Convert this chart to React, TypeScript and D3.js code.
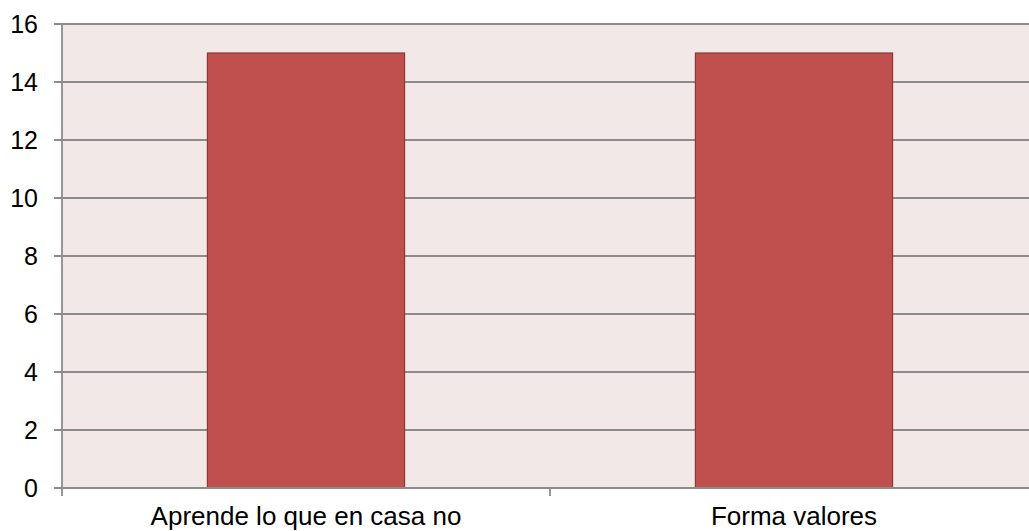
import React, { useEffect, useRef } from 'react';
import * as d3 from 'd3';

// chart data
const categories: string[] = ['Aprende lo que en casa no', 'Forma valores'];
const values: number[] = [15, 15];
const yTicks: number[] = [0, 2, 4, 6, 8, 10, 12, 14, 16];

const App: React.FC = () => {
  const svgRef = useRef<SVGSVGElement>(null);

  useEffect(() => {
    if (!svgRef.current) return;
    const svg = d3.select(svgRef.current);
    svg.selectAll('*').remove();

    const width = 1029;
    const height = 531;
    const margin = { top: 24, left: 62, bottom: 43 };
    const plotRight = 1038; // plot area runs past the right edge

    const x = d3.scaleBand<string>()
      .domain(categories)
      .range([margin.left, plotRight])
      .paddingInner(0.596)
      .paddingOuter(0.298);

    const y = d3.scaleLinear()
      .domain([0, 16])
      .range([height - margin.bottom, margin.top]);

    const g = svg.append('g');

    // plot background
    g.append('rect')
      .attr('x', margin.left)
      .attr('y', y(16))
      .attr('width', plotRight - margin.left)
      .attr('height', y(0) - y(16))
      .style('fill', '#f2e8e8');

    // gridlines + tick marks
    g.selectAll('.grid')
      .data(yTicks)
      .enter().append('line')
      .attr('class', 'grid')
      .attr('x1', margin.left - 8)
      .attr('x2', plotRight)
      .attr('y1', d => y(d))
      .attr('y2', d => y(d))
      .style('stroke', '#8c8c8c')
      .style('stroke-width', 1.8);

    // bars
    g.selectAll('.bar')
      .data(categories)
      .enter().append('rect')
      .attr('class', 'bar')
      .attr('x', d => x(d)!)
      .attr('width', x.bandwidth())
      .attr('y', (_, i) => y(values[i]))
      .attr('height', (_, i) => y(0) - y(values[i]))
      .style('fill', '#c0504d')
      .style('stroke', '#8c3836')
      .style('stroke-width', 1.2);

    // y axis line
    g.append('line')
      .attr('x1', margin.left)
      .attr('x2', margin.left)
      .attr('y1', y(16))
      .attr('y2', y(0) + 8)
      .style('stroke', '#8c8c8c')
      .style('stroke-width', 1.8);

    // baseline drawn over bars
    g.append('line')
      .attr('x1', margin.left)
      .attr('x2', plotRight)
      .attr('y1', y(0))
      .attr('y2', y(0))
      .style('stroke', '#8c8c8c')
      .style('stroke-width', 1.8);

    // category separators
    const sep = (plotRight - margin.left) / categories.length;
    g.selectAll('.xtick')
      .data(d3.range(1, categories.length + 1))
      .enter().append('line')
      .attr('class', 'xtick')
      .attr('x1', i => margin.left + sep * i)
      .attr('x2', i => margin.left + sep * i)
      .attr('y1', y(0))
      .attr('y2', y(0) + 8)
      .style('stroke', '#8c8c8c')
      .style('stroke-width', 1.8);

    // y tick labels
    g.selectAll('.ylabel')
      .data(yTicks)
      .enter().append('text')
      .attr('class', 'ylabel')
      .attr('x', margin.left - 24)
      .attr('y', d => y(d))
      .attr('dy', '0.36em')
      .attr('text-anchor', 'end')
      .style('font-family', 'Liberation Sans, Arial, sans-serif')
      .style('font-size', '25px')
      .style('fill', '#000')
      .text(d => d);

    // category labels
    g.selectAll('.xlabel')
      .data(categories)
      .enter().append('text')
      .attr('class', 'xlabel')
      .attr('x', d => x(d)! + x.bandwidth() / 2)
      .attr('y', y(0) + 37)
      .attr('text-anchor', 'middle')
      .style('font-family', 'Liberation Sans, Arial, sans-serif')
      .style('font-size', '26px')
      .style('fill', '#000')
      .text(d => d);

    svg.attr('width', width).attr('height', height);
  }, []);

  return (
    <div style={{ position: 'absolute', left: 0, top: 0, width: 1029, height: 531, overflow: 'hidden', background: '#fff' }}>
      <svg ref={svgRef} style={{ display: 'block' }}></svg>
    </div>
  );
};

export default App;
